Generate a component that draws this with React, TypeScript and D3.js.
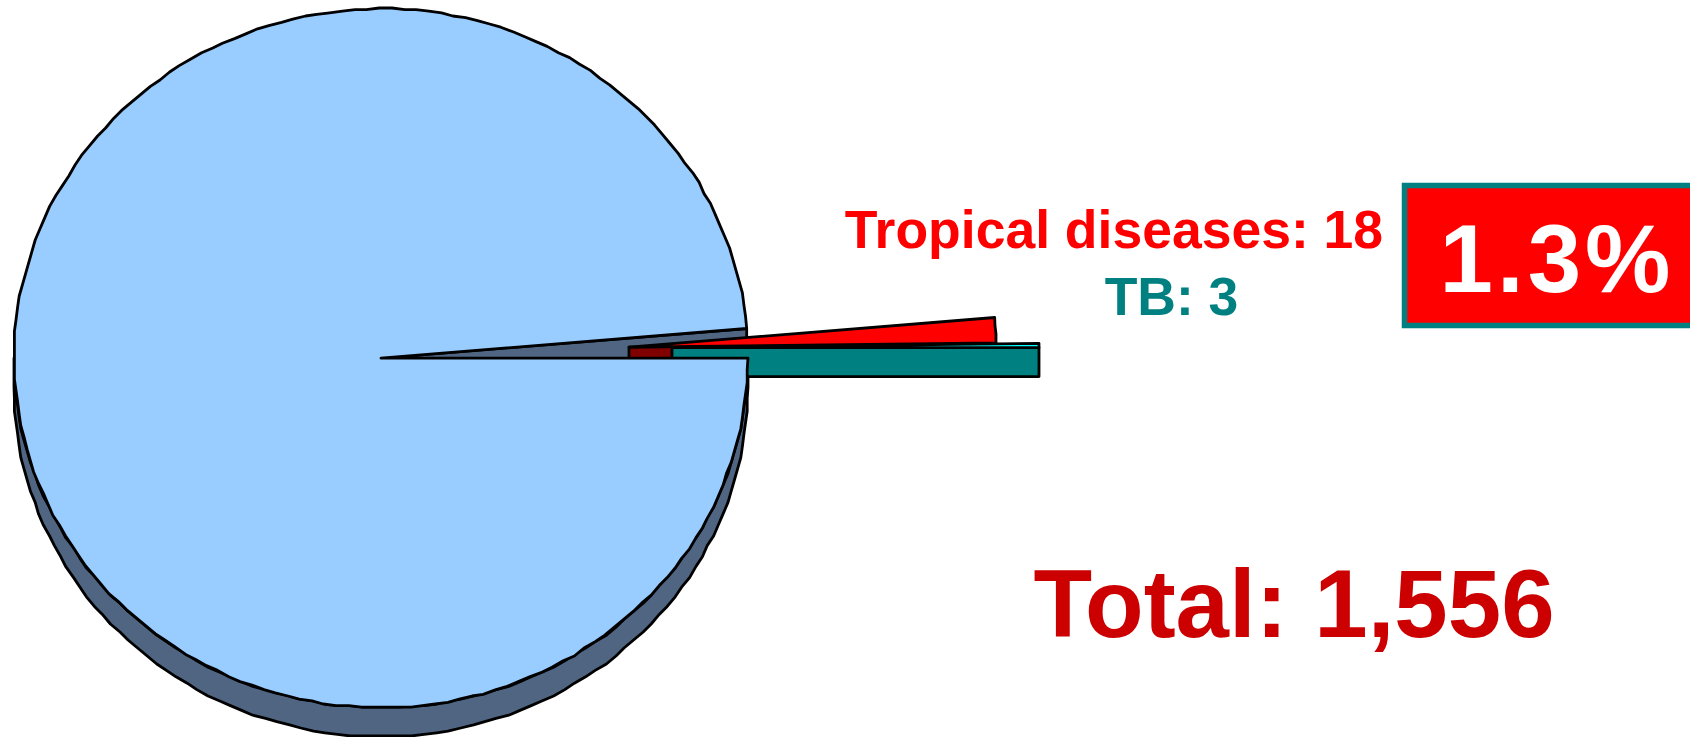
import React from 'react'
import { pie, line, range, scaleLinear } from 'd3'

const sliceNames = ['Other', 'Tropical diseases', 'TB']
const sliceValues = [1535, 18, 3]
const topColors = ['#99CCFF', '#FF0000', '#008080']
const sideColors = ['#4F6582', '#800000', '#008080']
const totalLabel = 'Total: 1,556'
const shareLabel = '1.3%'
const tropicalLabel = 'Tropical diseases: 18'
const tbLabel = 'TB: 3'

const width = 1690
const height = 737
const depth = 29
const offsets = [[0, 0], [248, -11], [291, -10.5]]

const x = scaleLinear().domain([-1, 1]).range([14, 748])
const y = scaleLinear().domain([-1, 1]).range([8.6, 707.6])
const slices = pie<number>().sort(null).startAngle(Math.PI / 2).endAngle(Math.PI * 2.5)(sliceValues)

type Pt = [number, number]
const path = line<Pt>()

// outline is faceted and a bit stepped in the original, so snap the samples
const rim = (a0: number, a1: number, dx: number, dy: number, snap = 1.6): Pt[] => {
    const n = Math.max(1, Math.ceil(Math.abs(a1 - a0) / 0.034))
    return range(n + 1).map(i => {
        const a = a0 + (a1 - a0) * i / n
        const px = x(Math.sin(a)) + dx
        const py = y(-Math.cos(a)) + dy
        if (i === 0 || i === n) return [px, py] as Pt
        return [Math.round(px / snap) * snap, Math.round(py / snap) * snap] as Pt
    })
}

const App = () => {
    const [main, tropical, tb] = slices
    const apex = (i: number): Pt => [x(0) + offsets[i][0], y(0) + offsets[i][1]]
    const face = (i: number) => {
        const s = slices[i]
        return path([apex(i), ...rim(s.startAngle, s.endAngle, offsets[i][0], offsets[i][1], i === 0 ? 1.6 : 1)])! + 'Z'
    }
    // cut wall along the lower edge of a slice (the edge at its end angle)
    const cutWall = (i: number, a: number) => {
        const [ax, ay] = apex(i)
        const ex = x(Math.sin(a)) + offsets[i][0]
        const ey = y(-Math.cos(a)) + offsets[i][1]
        return path([[ax, ay], [ex, ey], [ex, ey + depth], [ax, ay + depth]])! + 'Z'
    }
    const frontWall = path([
        ...rim(Math.PI / 2, Math.PI * 1.5, 0, depth),
        ...rim(Math.PI * 1.5, Math.PI / 2, 0, 0),
    ])! + 'Z'

    const line2 = { stroke: '#000', strokeWidth: 2.8, strokeLinejoin: 'round' as const }
    const font = { fontFamily: '"Liberation Sans", Arial, sans-serif', fontWeight: 700 }

    return (
        <svg width={width} height={height} style={{ position: 'absolute', left: 0, top: 0, background: '#fff' }}>
            <g>
                <path d={frontWall} fill={sideColors[0]} {...line2} />
                <path d={cutWall(0, main.endAngle)} fill={sideColors[0]} {...line2} />
                <path d={cutWall(1, tropical.endAngle)} fill={sideColors[1]} {...line2} />
                <path d={face(1)} fill={topColors[1]} {...line2} />
                <path d={cutWall(2, tb.endAngle)} fill={sideColors[2]} {...line2} />
                <path d={face(2)} fill="#00FFFF" {...line2} />
                <path d={face(0)} fill={topColors[0]} {...line2}>
                    <title>{sliceNames[0]}</title>
                </path>
            </g>

            <text x={1114} y={248} textAnchor="middle" fontSize={53.5} fill="#FF0000" {...font}>{tropicalLabel}</text>
            <text x={1171.5} y={315} textAnchor="middle" fontSize={53.5} fill="#008080" {...font}>{tbLabel}</text>

            <rect x={1404.5} y={185.5} width={290} height={140} fill="#FF0000" stroke="#008080" strokeWidth={5.5} />
            <text x={1557} y={292} textAnchor="middle" fontSize={96} letterSpacing={4} fill="#FFFFFF" {...font}>{shareLabel}</text>

            <text x={1294} y={637} textAnchor="middle" fontSize={96} fill="#CC0000" {...font}>{totalLabel}</text>
        </svg>
    )
}

export default App
